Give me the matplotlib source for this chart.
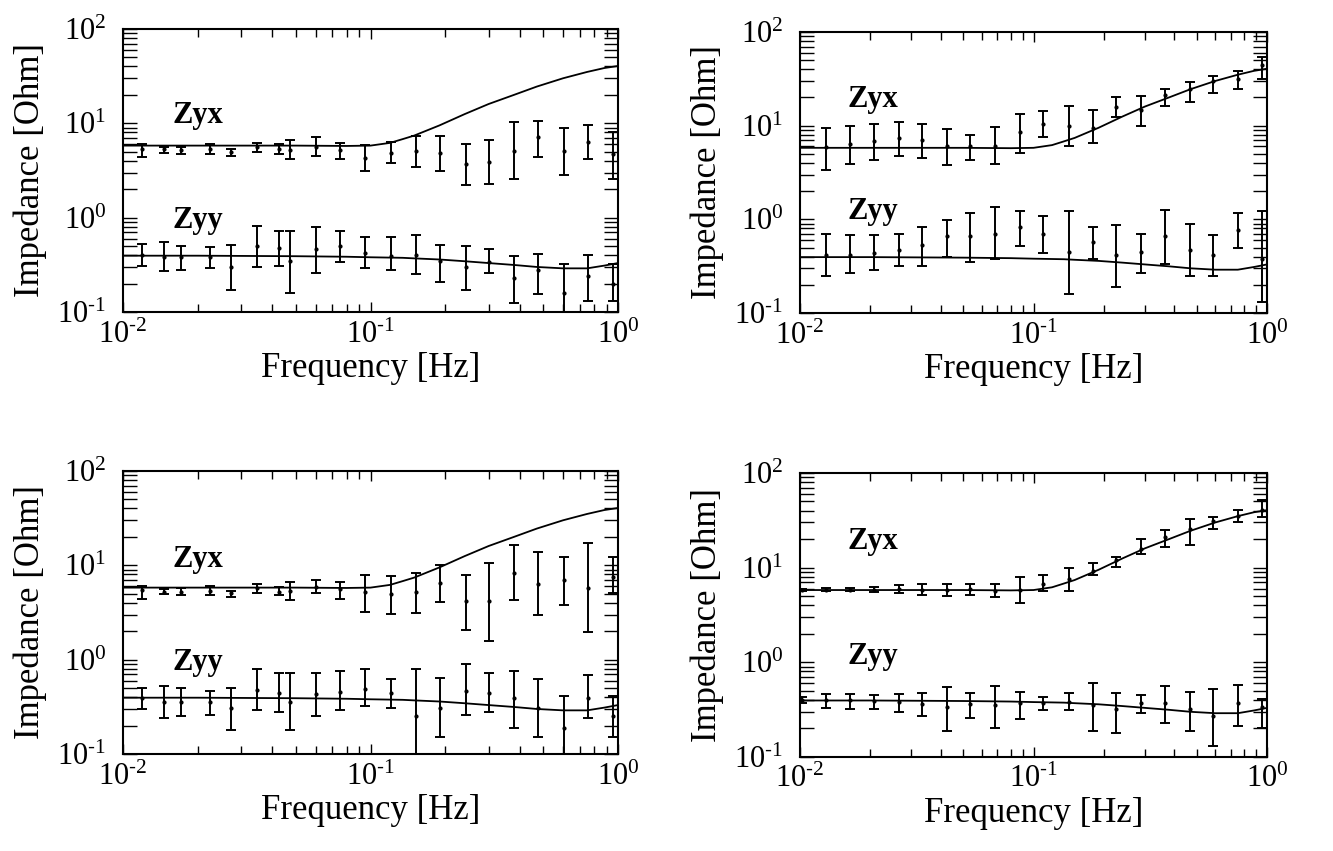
import numpy as np
import matplotlib
matplotlib.use("Agg")
import matplotlib.pyplot as plt
from matplotlib.ticker import FuncFormatter

plt.rcParams['font.family'] = ['Liberation Serif', 'DejaVu Serif']
plt.rcParams['mathtext.fontset'] = 'stix'

# frequencies of the measured points
f_left = [0.0119, 0.0147, 0.0172, 0.0224, 0.0274, 0.0348, 0.0427, 0.0472, 0.0602, 0.0753,
          0.095, 0.121, 0.152, 0.191, 0.243, 0.302, 0.381, 0.475, 0.603, 0.756, 0.951]
f_right = [0.0129, 0.0163, 0.0207, 0.0264, 0.0334, 0.0427, 0.0537, 0.0687, 0.0871, 0.110,
           0.142, 0.179, 0.226, 0.288, 0.366, 0.467, 0.587, 0.748, 0.955]
f_right4 = [0.0102] + f_right

# model curve (same in all panels)
model_f = [0.01, 0.02, 0.05, 0.08, 0.1, 0.12, 0.135, 0.15, 0.19, 0.24, 0.30, 0.38, 0.47,
           0.60, 0.75, 0.88, 1.0]
model_zyx = [5.8, 5.8, 5.8, 5.75, 5.8, 6.2, 6.8, 7.4, 9.5, 12.5, 16, 20, 24.5, 30, 35,
             38.5, 40.5]
model_zyy = [0.395, 0.395, 0.39, 0.385, 0.38, 0.377, 0.375, 0.37, 0.36, 0.345, 0.33, 0.315,
             0.30, 0.29, 0.29, 0.31, 0.33]

# panel 1 (top left)
zyx1 = [5.4, 5.3, 5.2, 5.3, 5.0, 5.6, 5.3, 5.2, 5.6, 5.2, 4.3, 4.9, 5.1, 4.8, 3.7, 3.85,
        5.1, 7.1, 5.05, 6.35, 4.75]
zyx1_hi = [6.1, 5.6, 5.55, 6.0, 5.3, 6.25, 6.1, 6.6, 7.2, 6.25, 5.85, 6.35, 7.4, 7.3, 6.0,
           6.6, 10.2, 10.7, 8.9, 9.6, 8.1]
zyx1_lo = [4.4, 4.9, 4.75, 4.7, 4.5, 5.0, 4.7, 4.15, 4.5, 4.2, 3.15, 3.75, 3.4, 3.15, 2.2,
           2.3, 2.55, 4.35, 2.85, 4.15, 2.55]
zyy1 = [0.40, 0.38, 0.38, 0.38, 0.30, 0.50, 0.48, 0.35, 0.47, 0.50, 0.42, 0.39, 0.40, 0.35,
        0.30, 0.34, 0.23, 0.28, 0.158, 0.24, 0.20]
zyy1_hi = [0.53, 0.55, 0.50, 0.49, 0.51, 0.82, 0.73, 0.73, 0.79, 0.72, 0.62, 0.62, 0.65,
           0.51, 0.50, 0.47, 0.39, 0.41, 0.32, 0.40, 0.32]
zyy1_lo = [0.31, 0.27, 0.28, 0.29, 0.17, 0.30, 0.31, 0.16, 0.26, 0.34, 0.29, 0.28, 0.25,
           0.21, 0.17, 0.26, 0.126, 0.154, 0.097, 0.13, 0.13]

# panel 2 (top right)
zyx2 = [5.85, 6.4, 6.9, 7.4, 7.0, 6.0, 6.0, 6.0, 8.5, 10.5, 9.8, 9.5, 15.7, 14.6, 21.4,
        24.6, 30, 31.5, 44]
zyx2_hi = [9.5, 9.8, 10.5, 10.9, 10.3, 9.3, 8.0, 9.6, 13.3, 14.4, 16.3, 14.8, 20.1, 20.6,
           24.6, 29.5, 33.9, 38.4, 53.7]
zyx2_lo = [3.4, 3.9, 4.3, 4.7, 4.5, 3.8, 4.3, 3.9, 5.1, 7.6, 6.0, 6.6, 12.4, 9.8, 16.1,
           18, 22.4, 24.6, 31.5]
zyy2 = [0.42, 0.42, 0.44, 0.47, 0.53, 0.66, 0.67, 0.70, 0.82, 0.70, 0.45, 0.57, 0.42, 0.45,
        0.67, 0.47, 0.42, 0.76, 0.38]
zyy2_hi = [0.69, 0.68, 0.68, 0.70, 0.83, 0.98, 1.16, 1.35, 1.22, 1.09, 1.22, 0.83, 0.86,
           0.69, 1.27, 0.89, 0.68, 1.16, 1.22]
zyy2_lo = [0.25, 0.27, 0.29, 0.32, 0.32, 0.40, 0.35, 0.38, 0.52, 0.44, 0.16, 0.38, 0.19,
           0.27, 0.33, 0.25, 0.25, 0.49, 0.13]

# panel 3 (bottom left)
zyx3 = [5.5, 5.2, 5.2, 5.35, 5.05, 5.7, 5.2, 5.35, 5.95, 5.6, 5.15, 5.0, 5.15, 6.5, 4.2,
        4.15, 8.2, 6.3, 7.0, 5.8, 7.6]
zyx3_hi = [6.0, 5.6, 5.7, 6.0, 5.4, 6.3, 5.95, 6.6, 6.9, 6.6, 7.8, 7.7, 8.2, 10, 7.9, 10.7,
           16.3, 13.7, 12.3, 17.4, 12.3]
zyx3_lo = [4.4, 5.0, 4.8, 4.8, 4.6, 5.1, 4.8, 4.3, 5.05, 4.4, 3.2, 3.05, 3.1, 4.1, 2.05,
           1.58, 4.3, 2.95, 3.8, 1.95, 5.05]
zyy3 = [0.39, 0.36, 0.36, 0.36, 0.31, 0.48, 0.44, 0.36, 0.43, 0.45, 0.49, 0.44, 0.25, 0.31,
        0.46, 0.44, 0.39, 0.31, 0.19, 0.39, 0.25]
zyy3_hi = [0.50, 0.53, 0.50, 0.46, 0.50, 0.80, 0.72, 0.72, 0.73, 0.76, 0.79, 0.63, 0.80,
           0.64, 0.89, 0.72, 0.76, 0.62, 0.41, 0.69, 0.41]
zyy3_lo = [0.30, 0.24, 0.25, 0.26, 0.18, 0.29, 0.28, 0.18, 0.25, 0.29, 0.32, 0.31, 0.08,
           0.15, 0.26, 0.28, 0.19, 0.15, 0.08, 0.24, 0.15]

# panel 4 (bottom right)
zyx4 = [5.8, 5.8, 5.8, 5.85, 5.9, 5.85, 5.85, 6.0, 5.7, 5.8, 6.8, 7.5, 9.2, 12, 15.8, 21,
        25.9, 30.9, 34.8, 41]
zyx4_hi = [6.0, 6.1, 6.1, 6.3, 6.6, 6.8, 6.8, 6.8, 6.7, 7.9, 8.3, 10, 11.2, 13, 20, 24.8,
           32.4, 34.3, 40.5, 51.5]
zyx4_lo = [5.6, 5.6, 5.6, 5.5, 5.4, 5.1, 5.0, 5.1, 4.9, 4.2, 5.7, 5.6, 8.3, 10.2, 14.1,
           16.7, 17.2, 25.9, 30.4, 34.3]
zyy4 = [0.40, 0.40, 0.40, 0.39, 0.38, 0.36, 0.34, 0.36, 0.35, 0.37, 0.37, 0.38, 0.35, 0.32,
        0.37, 0.37, 0.32, 0.27, 0.37, 0.34]
zyy4_hi = [0.43, 0.46, 0.46, 0.45, 0.46, 0.47, 0.55, 0.47, 0.56, 0.48, 0.43, 0.47, 0.60,
           0.47, 0.45, 0.56, 0.48, 0.52, 0.57, 0.41]
zyy4_lo = [0.37, 0.33, 0.32, 0.32, 0.30, 0.27, 0.19, 0.26, 0.20, 0.25, 0.31, 0.31, 0.19,
           0.18, 0.29, 0.23, 0.19, 0.13, 0.21, 0.20]

panels = [
    ([0.0923, 0.6334, 0.3713, 0.3326], f_left, zyx1, zyx1_lo, zyx1_hi, zyy1, zyy1_lo, zyy1_hi, 10, 0.78),
    ([0.6002, 0.6322, 0.3503, 0.3302], f_right, zyx2, zyx2_lo, zyx2_hi, zyy2, zyy2_lo, zyy2_hi, 15.8, 1.0),
    ([0.0923, 0.1140, 0.3713, 0.3326], f_left, zyx3, zyx3_lo, zyx3_hi, zyy3, zyy3_lo, zyy3_hi, 9.6, 0.78),
    ([0.6002, 0.1105, 0.3503, 0.3337], f_right4, zyx4, zyx4_lo, zyx4_hi, zyy4, zyy4_lo, zyy4_hi, 15.8, 0.96),
]


def decade(v, pos):
    # 10^n with a short hyphen for negative exponents
    n = int(round(np.log10(v)))
    if n < 0:
        return r'$\mathdefault{10^{\text{-}%d}}$' % (-n)
    return r'$\mathdefault{10^{%d}}$' % n


fig = plt.figure(figsize=(13.33, 8.51), dpi=100)

for rect, f, zx, zx_lo, zx_hi, zy, zy_lo, zy_hi, tx, ty in panels:
    ax = fig.add_axes(rect)
    ax.set_xscale('log')
    ax.set_yscale('log')
    for c, lo, hi in ((zx, zx_lo, zx_hi), (zy, zy_lo, zy_hi)):
        c = np.array(c)
        err = [c - np.array(lo), np.array(hi) - c]
        ax.errorbar(f, c, yerr=err, fmt='o', ms=2, color='black', ecolor='black',
                    elinewidth=1.4, capsize=3.5, capthick=1.4)
    ax.plot(model_f, model_zyx, '-', color='black', lw=1.3)
    ax.plot(model_f, model_zyy, '-', color='black', lw=1.3)
    ax.text(0.0159, tx, 'Zyx', fontsize=22, fontweight='bold', va='baseline')
    ax.text(0.0159, ty, 'Zyy', fontsize=22, fontweight='bold', va='baseline')
    ax.set_xlim(0.01, 1.0)
    ax.set_ylim(0.1, 100)
    ax.xaxis.set_major_formatter(FuncFormatter(decade))
    ax.yaxis.set_major_formatter(FuncFormatter(decade))
    ax.set_xlabel('Frequency [Hz]', fontsize=25, va='center')
    ax.set_ylabel('Impedance [Ohm]', fontsize=25, va='center')
    w_px = rect[2] * 1333
    ax.yaxis.set_label_coords(-93 / w_px, 0.5)
    ax.xaxis.set_label_coords(0.5, -0.2)
    ax.tick_params(which='both', direction='in', top=True, right=True, width=1,
                   labelsize=22)
    ax.tick_params(axis='x', which='major', length=7, pad=6)
    ax.tick_params(axis='x', which='minor', length=6)
    ax.tick_params(axis='y', which='both', length=10, pad=12)
    for s in ax.spines.values():
        s.set_linewidth(1.5)

fig.savefig('out.png', dpi=100)
